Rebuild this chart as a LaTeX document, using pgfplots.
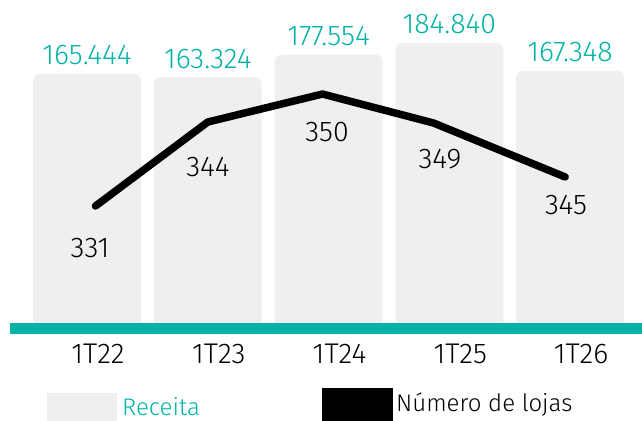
\documentclass[border=0pt]{standalone}
\usepackage{fontspec}
\setmainfont{Fira Sans Light}
\usepackage{pgfplots}
\pgfplotsset{compat=1.18}
\definecolor{teal1}{HTML}{00B3A6}
\definecolor{barg}{HTML}{EFEFEF}
\newcommand{\bigf}{\fontsize{28.5}{30}\selectfont}
\newcommand{\legf}{\fontsize{24}{26}\selectfont}

\pgfplotstableread{
x y lab
0 165444 165.444
1 163324 163.324
2 177554 177.554
3 184840 184.840
4 167348 167.348
}\receita

\pgfplotstableread{
x y
0.07 331
1.00 345.25
1.95 350
2.87 345.08
3.96 335.92
}\lojas

\pgfplotstableread{
x y lab
0.025 323.88 331
1.002 337.62 344
1.988 343.55 350
2.923 338.97 349
3.967 331.17 345
}\lojaslab

\begin{document}
\begin{tikzpicture}[x=1pt,y=1pt]
\clip (0,0) rectangle (642,420);
\begin{axis}[
  at={(10pt,86pt)}, anchor=south west,
  scale only axis, width=632pt, height=334pt,
  xmin=-0.6377, xmax=4.596,
  ymin=2506, ymax=211779,
  ybar, bar width=0.894,
  xtick={0,1,2,3,4},
  xticklabels={\textrm{1T22},\textrm{1T23},\textrm{1T24},\textrm{1T25},\textrm{1T26}},
  ytick=\empty,
  axis line style={draw=none},
  major tick length=0pt,
  xticklabel style={anchor=base, yshift=-30pt, xshift=11pt, font=\bigf, text=black},
  clip mode=individual,
]
\addplot[fill=barg, draw=none, rounded corners=7pt,
  nodes near coords, point meta=explicit symbolic,
  every node near coord/.append style={anchor=base, yshift=9pt, text=teal1, font=\bigf, rounded corners=0pt}]
  table[x=x, y=y, meta=lab] {\receita};
\end{axis}
\fill[teal1] (10,86) rectangle (642,97);
\begin{axis}[
  at={(10pt,86pt)}, anchor=south west,
  scale only axis, width=632pt, height=334pt,
  xmin=-0.6377, xmax=4.596,
  ymin=309.29, ymax=365.95,
  hide axis, clip=false,
]
\addplot[black, line width=7.5pt, line cap=round, line join=round, mark=none] table[x=x, y=y] {\lojas};
\addplot[draw=none, mark=none, nodes near coords, point meta=explicit symbolic,
  every node near coord/.append style={anchor=center, font=\bigf, text=black}]
  table[x=x, y=y, meta=lab] {\lojaslab};
\end{axis}
% legend
\fill[barg] (47,-5) rectangle (117,27);
\node[anchor=base west, inner sep=0pt, text=teal1, font=\legf] at (122,5) {Receita};
\fill[black] (322,-5) rectangle (393,32);
\node[anchor=base west, inner sep=0pt, text=black, font=\legf] at (396,9) {Número de lojas};
\end{tikzpicture}
\end{document}
